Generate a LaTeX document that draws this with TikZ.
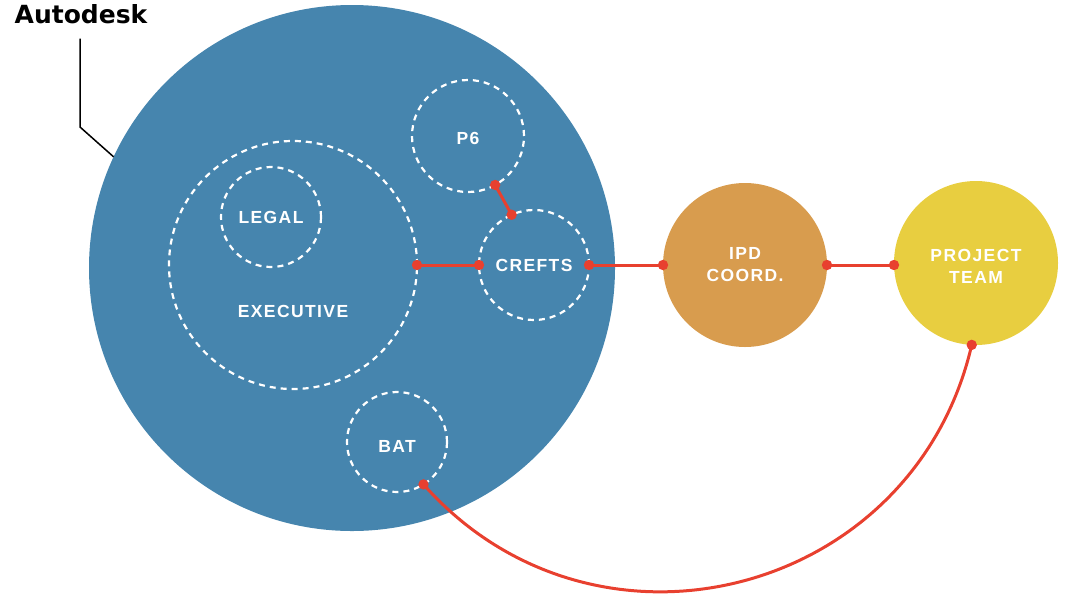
\documentclass[tikz,border=0pt]{standalone}
\usepackage{fontspec}
\setmainfont{Liberation Sans}
\newfontfamily\tagfont[LetterSpace=8]{Liberation Sans}
\newfontfamily\brandfont{DejaVu Sans}
\definecolor{orgblue}{HTML}{4685AE}
\definecolor{ipdorange}{HTML}{D89C4E}
\definecolor{teamyellow}{HTML}{E8CE40}
\definecolor{linkred}{HTML}{E8402F}
\tikzset{
    group/.style={circle, draw=white, dash pattern=on 6pt off 5pt, line width=2.2pt,
        minimum size=#1, inner sep=0pt, outer sep=0pt},
    party/.style={circle, fill=#1, minimum size=164pt, inner sep=0pt, outer sep=0pt},
    tag/.style={text=white, font=\tagfont\bfseries\fontsize{17.5}{22}\selectfont, align=center},
    link/.style={linkred, line width=3pt},
    leader/.style={black, line width=1.5pt},
}

\begin{document}
\begin{tikzpicture}[x=1pt,y=-1pt]
    \useasboundingbox (0,0) rectangle (1067,595);
    % organisation
    \node[circle, fill=orgblue, minimum size=526pt, inner sep=0pt, outer sep=0pt] (org) at (352,268) {};
    \node[font=\brandfont\bfseries\fontsize{25}{30}\selectfont, anchor=base, inner sep=0pt] (brand) at (81,23) {Autodesk};
    \coordinate (bend) at (80,127);
    \draw[leader] ([yshift=-15pt]brand.south -| bend) -- (bend) -- (org.155);
    % groups inside
    \node[group=248pt] (exec) at (293,265) {};
    \node[group=100pt, tag] (legal) at (271,217) {LEGAL};
    \node[tag] (exectext) at (293,311) {EXECUTIVE};
    \node[group=112pt, label={[tag,yshift=-2pt]center:P6}] (p6) at (468,136) {};
    \node[group=110pt, tag] (crefts) at (534,265) {CREFTS};
    \node[group=100pt, label={[tag,yshift=-4.5pt]center:BAT}] (bat) at (397,442) {};
    % outside parties
    \node[party=ipdorange, tag] (ipd) at (745,265) {IPD\\COORD.};
    \node[party=teamyellow, label={[tag,yshift=-3pt]center:PROJECT\\TEAM}] (team) at (976,263) {};
    % links
    \draw[link] (p6.-61) -- (crefts.114);
    \draw[link] (exec.east) -- (crefts.west);
    \draw[link] (crefts.east) -- (ipd.west);
    \draw[link] (ipd.east) -- (ipd.east -| team.west);
    \draw[link] (team.-93) .. controls (913.5,597) and (595,678) .. (bat.-58);
    \foreach \p in {p6.-61, crefts.114, exec.east, crefts.west, crefts.east, ipd.west, ipd.east, team.-93, bat.-58} {
        \fill[linkred] (\p) circle (5.2pt);
    }
    \fill[linkred] (ipd.east -| team.west) circle (5.2pt);
\end{tikzpicture}
\end{document}
